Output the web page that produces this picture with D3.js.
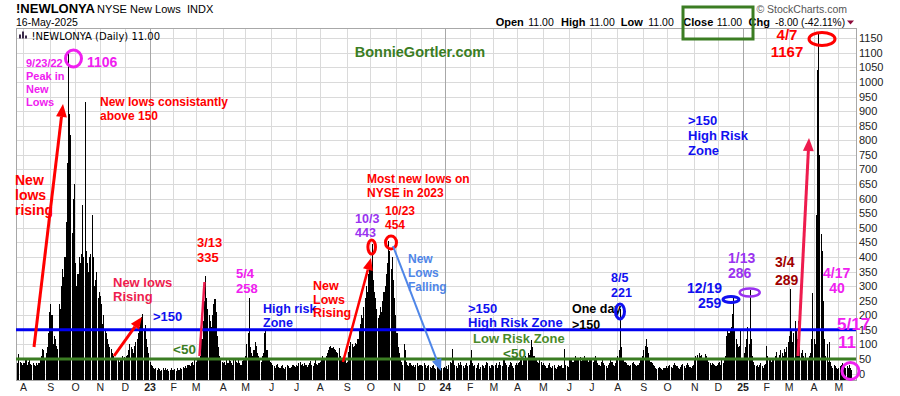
<!DOCTYPE html>
<meta charset="utf-8">
<body style="margin:0;background:#fff">
<svg id="chart" width="900" height="396"></svg>
<script src="https://d3js.org/d3.v7.min.js"></script>
<script>
// NYSE new lows (!NEWLONYA), daily closes, one inner array per month
const lows2022 = [
  [42, 38, 66, 40, 35, 30],
  [38, 35, 45, 30, 40, 55, 32, 28, 35, 30, 25, 38, 30, 35, 45, 60, 85, 80, 55, 70, 90, 140, 210],
  [240, 200, 100, 130, 120, 95, 85, 240, 220, 300, 360, 330, 400, 520, 722, 1106, 890, 818, 482, 600, 650],
  [380, 300, 340, 400, 380, 410, 578, 400, 932, 420, 380, 350, 400, 410, 544, 400, 300, 320, 350, 260, 280],
  [265, 240, 170, 200, 150, 140, 120, 100, 90, 85, 70, 60, 55, 50, 52, 48, 40, 55, 45, 60, 58],
  [55, 60, 65, 80, 100, 90, 85, 70, 95, 110, 120, 140, 160, 180, 195, 205, 150, 165, 120, 90, 70]
];
const lows2023 = [
  [40, 30, 25, 20, 15, 18, 12, 20, 15, 10, 12, 18, 14, 20, 12, 15, 10, 14, 18, 12],
  [12, 15, 10, 18, 14, 12, 20, 16, 22, 18, 25, 20, 28, 30, 26, 35, 40, 30, 45],
  [40, 45, 50, 55, 60, 120, 180, 250, 335, 260, 220, 200, 180, 160, 200, 240, 255, 210, 130, 90, 60, 45, 40],
  [35, 40, 30, 45, 38, 50, 42, 35, 30, 48, 55, 40, 35, 45, 38, 30, 42, 50, 45],
  [60, 100, 140, 258, 90, 70, 60, 80, 110, 95, 70, 60, 55, 40, 60, 70, 140, 145, 80, 50, 45, 40],
  [35, 30, 25, 20, 28, 32, 22, 18, 25, 30, 20, 15, 22, 28, 25, 20, 18, 24, 30, 26, 22],
  [30, 25, 35, 40, 28, 32, 25, 38, 30, 22, 28, 35, 42, 30, 25, 38, 45, 32, 28, 35],
  [40, 55, 62, 50, 45, 60, 70, 80, 90, 95, 88, 92, 85, 80, 75, 70, 88, 60, 55, 45, 40, 50, 35],
  [40, 75, 95, 110, 100, 90, 95, 105, 100, 120, 150, 170, 200, 190, 230, 260, 300, 280, 340, 360],
  [360, 443, 320, 280, 260, 220, 190, 200, 230, 210, 250, 280, 300, 340, 380, 454, 420, 360, 400, 320, 260, 200],
  [140, 90, 70, 50, 40, 30, 100, 80, 40, 30, 25, 35, 30, 25, 28, 22, 30, 35, 25, 30, 28],
  [30, 25, 35, 28, 20, 25, 30, 22, 18, 25, 30, 20, 15, 22, 28, 35, 25, 20, 18, 22]
];
const lows2024 = [
  [20, 25, 15, 30, 40, 35, 85, 45, 30, 25, 20, 35, 28, 40, 30, 25, 20, 30, 35, 25, 28],
  [45, 80, 35, 25, 30, 20, 28, 35, 15, 22, 30, 25, 18, 30, 40, 35, 25, 20, 30, 28],
  [25, 30, 35, 20, 28, 40, 30, 25, 45, 55, 35, 28, 22, 30, 40, 35, 25, 20, 30, 38],
  [30, 35, 40, 45, 30, 50, 45, 60, 55, 70, 65, 80, 115, 90, 60, 50, 45, 40, 35, 48, 40, 30],
  [35, 30, 25, 20, 28, 35, 22, 18, 25, 30, 20, 15, 22, 28, 25, 30, 20, 18, 85, 30, 26, 22],
  [50, 45, 55, 40, 48, 60, 52, 45, 50, 58, 42, 48, 55, 60, 50, 45, 40, 52, 48],
  [45, 40, 55, 60, 50, 35, 30, 25, 40, 45, 35, 30, 25, 20, 28, 35, 45, 40, 30, 25, 35, 45],
  [60, 80, 221, 90, 55, 45, 40, 35, 30, 28, 25, 30, 35, 40, 32, 28, 25, 30, 35, 45, 50, 60],
  [80, 95, 118, 90, 70, 50, 40, 35, 30, 25, 20, 15, 18, 22, 20, 15, 12, 18, 20, 25],
  [20, 25, 30, 22, 18, 28, 35, 30, 25, 20, 15, 22, 28, 32, 25, 20, 30, 35, 28, 22, 18, 25, 30],
  [50, 60, 65, 55, 70, 60, 65, 50, 55, 68, 60, 45, 40, 35, 30, 38, 32, 28, 25, 30],
  [35, 40, 30, 45, 38, 50, 60, 130, 150, 140, 145, 160, 205, 259, 150, 120, 100, 90, 95, 150, 55]
];
const lows2025 = [
  [55, 70, 90, 120, 160, 100, 286, 120, 60, 40, 30, 25, 28, 22, 30, 35, 25, 20, 28, 32],
  [95, 60, 45, 50, 40, 55, 48, 60, 75, 50, 55, 65, 80, 70, 60, 85, 75, 90, 110],
  [130, 289, 150, 110, 140, 180, 150, 120, 179, 90, 70, 80, 60, 55, 70, 50, 45, 60, 70, 120, 276],
  [120, 100, 544, 1041, 1167, 750, 480, 420, 250, 120, 60, 100, 40, 108, 40, 25, 20, 30, 25, 20, 15],
  [20, 25, 30, 35, 28, 22, 18, 25, 20, 30, 19, 11]
];

// month tick labels (year number on January)
const ticks2022 = ["", "A", "S", "O", "N", "D"];
const ticks2023 = ["23", "F", "M", "A", "M", "J", "J", "A", "S", "O", "N", "D"];
const ticks2024 = ["24", "F", "M", "A", "M", "J", "J", "A", "S", "O", "N", "D"];
const ticks2025 = ["25", "F", "M", "A", "M"];

const yTicks = d3.range(0, 1151, 50);
const riskHigh = 150, riskLow = 50;

// flatten into one daily series
let days = [], monthStarts = [];
[[lows2022, ticks2022], [lows2023, ticks2023], [lows2024, ticks2024], [lows2025, ticks2025]]
    .forEach(([months, ticks]) => {
        months.forEach((m, j) => {
            if (ticks[j]) monthStarts.push({i: days.length, label: ticks[j], year: j === 0});
            m.forEach(v => days.push(v));
        });
    });

const svg = d3.select("#chart");
const font = "'Liberation Sans', Arial, sans-serif";
const pLeft = 16, pRight = 856, pTop = 28, pBottom = 380;

let x = d3.scaleBand().domain(d3.range(days.length)).range([pLeft, 852.5]);
let y = d3.scaleLinear().domain([-22, 1185]).range([pBottom, pTop]);

// grid
let grid = svg.append("g");
grid.selectAll(".h").data(yTicks).join("line")
    .attr("x1", pLeft).attr("x2", pRight)
    .attr("y1", d => Math.round(y(d)) + 0.5).attr("y2", d => Math.round(y(d)) + 0.5)
    .attr("stroke", "#dadada");
grid.selectAll(".v").data(monthStarts).join("line")
    .attr("x1", d => Math.round(x(d.i)) + 0.5).attr("x2", d => Math.round(x(d.i)) + 0.5)
    .attr("y1", pTop).attr("y2", pBottom)
    .attr("stroke", d => d.year ? "#a8a8a8" : "#dadada");

// bars from the bottom of the panel
svg.append("g").attr("shape-rendering", "crispEdges")
    .selectAll("rect").data(days).join("rect")
    .attr("x", (d, i) => x(i))
    .attr("width", x.bandwidth() * 0.9)
    .attr("y", d => y(d))
    .attr("height", d => pBottom - y(d))
    .attr("fill", "#000");

// frame
svg.append("rect").attr("x", pLeft + 0.5).attr("y", pTop + 0.5)
    .attr("width", pRight - pLeft).attr("height", pBottom - pTop)
    .attr("fill", "none").attr("stroke", "#a8a8a8");

// y axis on the right
let yAxis = svg.append("g").attr("transform", `translate(${pRight},0)`)
    .call(d3.axisRight(y).tickValues(yTicks).tickFormat(d3.format("d")).tickSize(0).tickPadding(3));
yAxis.select(".domain").remove();
yAxis.selectAll("text").attr("font-family", font).attr("font-size", 11).attr("fill", "#222");

// x labels
svg.append("g").selectAll("text").data(monthStarts).join("text")
    .attr("x", d => x(d.i) + 0.5).attr("y", 390.5)
    .attr("text-anchor", "middle")
    .attr("font-family", font).attr("font-size", 10.5)
    .attr("font-weight", d => d.year ? "bold" : "normal")
    .attr("fill", "#222")
    .text(d => d.label);

// risk lines
svg.append("line").attr("x1", pLeft).attr("x2", pRight)
    .attr("y1", y(riskHigh)).attr("y2", y(riskHigh))
    .attr("stroke", "#0000f0").attr("stroke-width", 3);
svg.append("line").attr("x1", pLeft).attr("x2", pRight)
    .attr("y1", y(riskLow)).attr("y2", y(riskLow))
    .attr("stroke", "#3b7d23").attr("stroke-width", 3);

// header
function txt(g, px, py, s, size, opts) {
    opts = opts || {};
    return g.append("text").attr("x", px).attr("y", py)
        .attr("font-family", opts.family || font)
        .attr("font-size", size)
        .attr("font-weight", opts.bold ? "bold" : "normal")
        .attr("fill", opts.color || "#000")
        .attr("text-anchor", opts.anchor || "start")
        .text(s);
}
let head = svg.append("g");
txt(head, 16, 13.3, "!NEWLONYA", 13, {bold: true});
txt(head, 97, 12.7, "NYSE New Lows", 11);
txt(head, 187, 12.7, "INDX", 11);
txt(head, 16, 26, "16-May-2025", 10.5);
txt(head, 847, 12.5, "© StockCharts.com", 10.5, {anchor: "end", color: "#555"});
[["Open", 495.7, 528.3], ["High", 561, 589.3], ["Low", 620.7, 648.3], ["Close", 683.3, 716.7], ["Chg", 748.5, 775]]
    .forEach(([k, a, b], j) => {
        txt(head, a, 26, k, 11, {bold: true});
        txt(head, b, 26, j === 4 ? "-8.00 (-42.11%)" : "11.00", j === 4 ? 10.2 : 10.5);
    });
head.append("path").attr("d", "M847,20.5L854,20.5L850.5,24.5Z").attr("fill", "#8b0a3a");
head.append("rect").attr("x", 683).attr("y", 7).attr("width", 70).attr("height", 32)
    .attr("fill", "none").attr("stroke", "#3b7d23").attr("stroke-width", 3);

// panel label
[[19, 4], [22, 7], [25, 3]].forEach(([bx, bh]) => {
    head.append("rect").attr("x", bx).attr("y", 38.5 - bh).attr("width", 2).attr("height", bh)
        .attr("fill", "#3a2a4a");
});
txt(head, 31.5, 39.5, "!NEWLONYA (Daily) 11.00", 10, {family: "'DejaVu Sans', Verdana, sans-serif"});

// annotations
let ann = svg.append("g");
const MAG = "#f020f0", RED = "#ff0000", BLUE = "#1010f0", GREEN = "#3b7d23",
      PURP = "#9a32f0", DRED = "#a00000", CORN = "#4f86e8", CRIM = "#ee1c4e";

function note(px, py, lines, color, size, lh, anchor) {
    lines.forEach((s, j) => txt(ann, px, py + j * lh, s, size, {bold: true, color: color, anchor: anchor}));
}
function ring(cx, cy, rx, ry, color, w) {
    ann.append("ellipse").attr("cx", cx).attr("cy", cy).attr("rx", rx).attr("ry", ry)
        .attr("fill", "none").attr("stroke", color).attr("stroke-width", w || 3);
}
function arrow(x1, y1, x2, y2, color, w, hl) {
    const a = Math.atan2(y2 - y1, x2 - x1);
    const bx = x2 - hl * Math.cos(a), by = y2 - hl * Math.sin(a);
    const hw = hl * 0.42;
    ann.append("line").attr("x1", x1).attr("y1", y1).attr("x2", bx).attr("y2", by)
        .attr("stroke", color).attr("stroke-width", w);
    if (hl > 0) {
        ann.append("path")
            .attr("d", `M${x2},${y2}L${bx + hw * Math.sin(a)},${by - hw * Math.cos(a)}L${bx - hw * Math.sin(a)},${by + hw * Math.cos(a)}Z`)
            .attr("fill", color);
    }
}

txt(ann, 420, 57, "BonnieGortler.com", 14.5, {bold: true, color: GREEN, anchor: "middle"});

note(26, 66.5, ["9/23/22", "Peak in", "New", "Lows"], MAG, 11, 13.3);
note(87, 67, ["1106"], MAG, 14, 0);
ring(73.5, 58.5, 8, 8.5, MAG);
note(100, 106, ["New lows consistantly", "above 150"], RED, 12, 13.5);
note(15, 185, ["New", "lows", "rising"], RED, 14, 15);
arrow(34, 347, 63, 104, RED, 3, 13);

note(113, 286.5, ["New lows", "Rising"], CRIM, 13, 14);
arrow(114, 356, 142, 317, RED, 3, 12);
note(153, 321, [">150"], BLUE, 13, 0);
note(173, 354, ["<50"], GREEN, 13.5, 0);
note(197, 247, ["3/13", "335"], RED, 13, 15);
arrow(199.5, 356, 204.5, 282, CRIM, 2.5, 0);
note(236, 278, ["5/4", "258"], MAG, 13, 14.5);
note(263, 312.5, ["High risk", "Zone"], BLUE, 12.5, 14.5);
note(313, 290, ["New", "Lows", "Rising"], RED, 12.5, 13.5);
arrow(343, 362, 371, 258, RED, 2.5, 12);
note(367, 183, ["Most new lows on", "NYSE in 2023"], RED, 12, 14);
note(355, 223, ["10/3", "443"], PURP, 12.5, 14);
ring(371.7, 247, 3.8, 7, RED);
note(385, 215, ["10/23", "454"], RED, 12, 13.5);
ring(391, 242.5, 5.5, 6.5, RED);
note(408, 263, ["New", "Lows", "Falling"], CORN, 12, 14);
arrow(393, 246, 441, 371, CORN, 2, 12);
note(468, 312.5, [">150", "High Risk Zone"], BLUE, 13, 14);
note(473, 342.5, ["Low Risk Zone"], "#4a8a2a", 13, 0);
note(503, 358, ["<50"], GREEN, 13.5, 0);
note(572, 313, ["One day", ">150"], "#000", 12.5, 16);
note(611, 281.5, ["8/5", "221"], BLUE, 12.5, 15);
ring(620, 311.5, 4.5, 7.5, BLUE);
note(688, 124.5, [">150", "High Risk", "Zone"], BLUE, 13, 15.3);
note(687, 293, ["12/19"], BLUE, 14, 0);
note(698, 308, ["259"], BLUE, 14, 0);
ring(731, 299.5, 8, 3, BLUE);
note(728, 263, ["1/13", "286"], PURP, 14, 15);
ring(749.7, 292.5, 10, 4, PURP, 2.5);
note(775, 266.5, ["3/4", "289"], DRED, 14, 18);
arrow(798, 356, 809, 138, CRIM, 3, 13);
note(787, 40, ["4/7", "1167"], RED, 15, 16.5, "middle");
ring(822, 39, 13, 6.5, RED);
note(823, 278, ["4/17"], MAG, 14, 0);
note(837, 293, ["40"], MAG, 14, 0, "middle");
note(837, 330, ["5/17"], MAG, 17, 0);
note(838, 348, ["11"], MAG, 17, 0);
ring(850.5, 371, 8.5, 8.5, MAG);
</script>
